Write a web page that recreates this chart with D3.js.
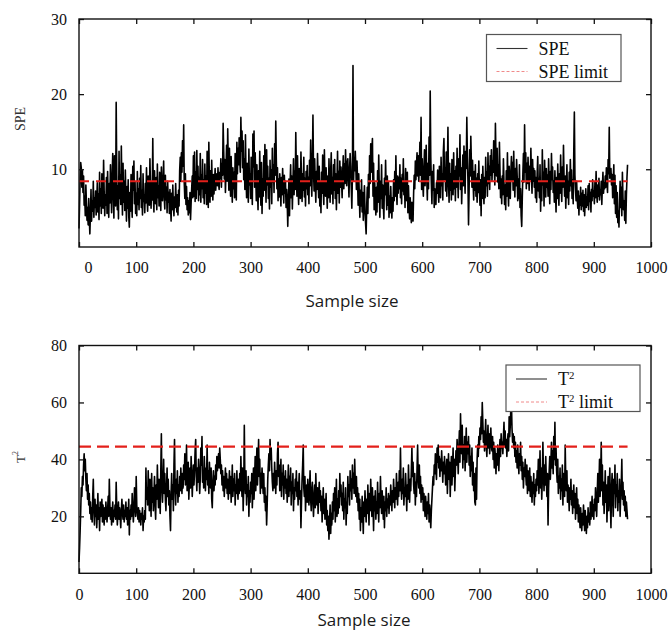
<!DOCTYPE html>
<html>
<head>
<meta charset="utf-8">
<script src="https://d3js.org/d3.v7.min.js"></script>
<style>
body { margin: 0; background: #fff; }
svg { display: block; }
.tick line { stroke: #111; stroke-width: 1.3; }
.legend text { font-family: "Liberation Serif", "Times New Roman", serif; font-size: 18px; fill: #111; }
</style>
</head>
<body>
<svg width="668" height="630"></svg>
<script>
var sampleTicks = [0, 100, 200, 300, 400, 500, 600, 700, 800, 900, 1000];
var speTicks = [10, 20, 30];
var t2Ticks = [20, 40, 60, 80];
var speLimit = 8.4;
var t2Limit = 44.5;

// SPE statistic, one value per sample
var speValues = [
  2.1, 5.3, 8.8, 10.9, 10.2, 7.6, 9.8, 6.9, 9.1, 5.2, 6.4, 3.8, 7.9, 5.5, 3.2, 4.9, 2.6, 6.1, 3.4, 1.4,
  4.2, 7.3, 3.1, 5.8, 4.4, 8.4, 3.6, 6.2, 4.9, 7.1, 3.9, 5.6, 8.2, 4.3, 6.7, 3.3, 9.6, 5.1, 7.4, 4.1,
  9.4, 6.3, 4.8, 11.2, 7.1, 3.8, 6.6, 5.2, 8.9, 4.1, 9.7, 6.2, 3.6, 8.1, 5.5, 10.6, 7.3, 4.2, 9.1, 12.1,
  6.4, 3.5, 11.8, 8.2, 5.1, 18.9, 9.3, 4.6, 7.8, 3.4, 12.4, 6.1, 9.2, 5.3, 13.1, 7.6, 3.9, 10.8, 5.6, 8.4,
  4.5, 9.9, 6.2, 3.1, 7.7, 4.8, 8.6, 3.7, 2.3, 6.9, 4.4, 9.3, 5.8, 3.6, 10.4, 7.2, 11.1, 5.4, 8.3, 4.1,
  6.8, 3.8, 9.7, 5.3, 7.4, 4.6, 8.8, 6.1, 10.5, 4.9, 7.2, 3.9, 9.4, 5.7, 6.6, 4.2, 8.1, 5.5, 10.2, 6.3,
  4.4, 9.1, 6.7, 5.2, 11.4, 7.6, 4.8, 8.3, 5.9, 14.1, 6.5, 4.3, 9.8, 7.1, 5.4, 8.9, 4.6, 10.7, 6.2, 7.8,
  5.1, 9.6, 6.8, 4.5, 10.3, 7.4, 5.8, 8.7, 11.1, 6.2, 4.7, 9.2, 5.9, 7.6, 4.2, 8.4, 5.6, 6.9, 4.1, 7.3,
  5.4, 3.1, 6.8, 4.6, 7.9, 5.2, 3.8, 6.3, 4.9, 8.1, 5.7, 4.3, 6.6, 3.9, 7.2, 5.1, 9.8, 11.6, 8.4, 12.2,
  9.6, 13.8, 10.4, 15.9, 8.2, 6.1, 9.4, 5.3, 7.7, 4.6, 6.2, 3.9, 5.8, 4.2, 6.9, 3.3, 5.5, 7.4, 9.1, 6.2,
  11.8, 6.4, 12.3, 5.7, 9.6, 6.1, 12.5, 7.3, 10.4, 5.8, 8.9, 6.6, 12.1, 5.6, 9.2, 7.4, 11.3, 6.2, 8.6, 5.4,
  10.7, 6.8, 9.1, 5.3, 12.4, 7.1, 4.9, 13.6, 8.2, 5.6, 9.8, 6.4, 11.2, 7.6, 5.9, 9.3, 6.7, 8.4, 10.1, 7.2,
  8.6, 9.4, 7.8, 10.2, 8.1, 7.3, 9.6, 8.8, 11.4, 7.6, 10.8, 9.2, 16.1, 12.4, 8.7, 11.3, 6.9, 9.8, 13.2, 8.4,
  15.4, 10.6, 7.2, 12.8, 9.1, 6.4, 11.7, 8.3, 5.6, 10.2, 7.4, 9.6, 6.2, 12.1, 8.8, 5.9, 13.6, 9.4, 12.8, 10.6,
  14.2, 11.3, 9.6, 16.9, 12.4, 15.1, 10.2, 13.8, 8.6, 11.4, 7.3, 14.6, 9.1, 6.2, 10.8, 8.4, 5.6, 12.7, 7.9, 9.4,
  6.1, 11.6, 8.2, 5.3, 14.7, 10.3, 15.1, 7.6, 12.2, 9.1, 5.8, 10.6, 7.4, 4.6, 9.8, 6.3, 12.4, 8.1, 5.2, 10.9,
  4.1, 8.7, 6.4, 11.8, 7.2, 13.3, 9.1, 5.6, 12.6, 7.9, 10.4, 6.1, 8.8, 4.7, 11.2, 7.6, 9.9, 5.4, 12.8, 8.3,
  10.6, 6.9, 13.4, 9.2, 16.4, 11.1, 7.4, 10.2, 5.8, 8.7, 6.3, 9.4, 7.6, 5.1, 8.9, 6.6, 10.1, 7.8, 5.5, 9.2,
  6.8, 8.4, 4.9, 7.3, 5.6, 2.4, 6.1, 8.7, 3.8, 7.9, 10.6, 6.2, 9.1, 4.7, 8.2, 11.4, 6.6, 9.8, 7.3, 14.9,
  9.6, 6.4, 11.8, 7.7, 5.3, 10.1, 8.4, 6.1, 12.3, 8.9, 5.7, 9.4, 7.2, 11.6, 6.3, 8.8, 5.1, 9.7, 7.4, 10.5,
  6.6, 8.9, 5.4, 11.2, 7.8, 13.9, 9.2, 6.4, 10.6, 17.2, 9.8, 7.1, 11.4, 8.2, 5.6, 9.7, 7.3, 12.1, 8.6, 6.2,
  10.4, 5.1, 8.3, 4.2, 9.6, 6.8, 11.9, 7.4, 5.3, 12.6, 8.1, 6.4, 10.2, 7.6, 4.8, 9.1, 6.2, 11.4, 7.9, 5.6,
  9.8, 12.2, 6.7, 8.9, 5.4, 10.6, 7.2, 11.3, 6.1, 9.4, 4.6, 8.2, 12.4, 6.8, 9.7, 5.5, 11.1, 7.6, 10.3, 8.4,
  6.2, 9.6, 11.8, 7.4, 10.7, 8.1, 12.6, 9.3, 7.8, 10.9, 11.4, 8.6, 6.3, 9.9, 12.1, 10.4, 7.6, 4.8, 9.2, 23.8,
  8.4, 11.6, 9.8, 12.4, 10.2, 7.3, 11.1, 8.6, 5.2, 9.4, 6.8, 3.6, 7.2, 5.1, 8.6, 4.3, 6.9, 3.2, 5.6, 7.8,
  4.4, 2.8, 1.4, 5.2, 7.6, 4.1, 9.3, 6.2, 11.8, 8.1, 13.4, 9.6, 12.7, 14.1, 6.4, 10.8, 4.6, 8.2, 5.7, 3.9,
  7.6, 4.3, 9.8, 5.6, 11.9, 7.2, 3.6, 8.4, 6.1, 10.6, 4.8, 7.9, 5.3, 3.4, 8.8, 6.6, 11.2, 7.4, 4.6, 9.1,
  5.2, 8.3, 3.6, 6.4, 4.2, 7.7, 5.1, 3.5, 6.2, 4.4, 8.6, 5.8, 9.7, 6.4, 11.8, 7.2, 5.3, 9.1, 6.8, 8.9,
  7.4, 10.6, 6.2, 8.8, 5.4, 9.3, 7.1, 11.4, 6.6, 8.2, 4.9, 10.1, 7.3, 5.8, 9.6, 4.2, 7.8, 5.1, 3.4, 6.2,
  4.1, 2.9, 5.6, 3.4, 3.1, 6.8, 9.2, 7.4, 11.1, 8.6, 10.6, 12.2, 9.1, 11.8, 8.4, 10.3, 13.6, 9.2, 16.9, 7.3,
  11.4, 8.2, 6.4, 10.1, 12.6, 7.8, 9.4, 13.2, 8.6, 5.9, 10.8, 7.4, 14.3, 9.2, 20.4, 11.6, 8.1, 5.4, 9.7, 7.2,
  10.6, 4.9, 7.4, 6.1, 5.3, 8.2, 6.8, 9.9, 7.1, 5.6, 10.4, 8.3, 6.2, 11.6, 7.8, 9.4, 5.9, 12.4, 14.1, 8.6,
  10.2, 7.1, 12.3, 6.4, 9.6, 15.6, 8.3, 5.6, 10.8, 7.2, 9.4, 5.9, 11.3, 8.1, 6.6, 12.2, 7.4, 9.8, 5.8, 10.4,
  7.6, 12.8, 8.9, 6.2, 11.4, 9.1, 14.6, 7.3, 10.2, 5.4, 8.6, 11.9, 7.8, 13.1, 9.4, 6.8, 12.4, 10.1, 16.9, 11.6,
  8.4, 2.6, 7.2, 12.6, 9.1, 14.4, 10.8, 7.6, 11.2, 8.3, 5.9, 9.7, 7.2, 10.6, 6.4, 8.8, 5.6, 9.4, 6.9, 11.1,
  7.4, 5.2, 8.6, 3.8, 9.3, 6.1, 10.4, 7.6, 5.4, 8.9, 6.2, 11.6, 7.8, 9.6, 6.4, 12.2, 8.1, 10.4, 7.3, 11.8,
  9.2, 12.6, 8.4, 11.1, 9.6, 13.8, 10.2, 7.9, 16.1, 11.4, 9.1, 12.8, 8.3, 10.6, 7.4, 13.6, 9.8, 6.2, 8.7, 5.4,
  9.1, 6.6, 11.4, 8.2, 5.3, 7.9, 4.6, 9.8, 6.4, 12.2, 7.6, 5.1, 10.4, 8.3, 6.1, 9.6, 11.7, 8.4, 10.9, 7.2,
  12.4, 8.6, 6.3, 10.1, 7.8, 11.3, 9.2, 5.8, 8.7, 6.1, 10.6, 4.9, 7.4, 3.8, 2.4, 6.2, 9.4, 12.1, 8.3, 15.9,
  9.6, 12.2, 7.4, 10.8, 8.1, 11.6, 9.3, 7.2, 10.4, 8.6, 12.8, 9.1, 6.8, 11.3, 8.4, 10.1, 7.6, 9.8, 6.2, 8.9,
  5.6, 9.4, 11.7, 7.1, 8.8, 6.2, 10.6, 4.4, 8.3, 5.8, 12.6, 7.9, 9.6, 5.1, 11.2, 8.4, 6.3, 10.1, 7.6, 9.2,
  6.4, 11.4, 8.1, 5.4, 9.7, 7.3, 12.1, 8.6, 10.3, 6.9, 8.4, 5.6, 9.8, 7.2, 4.3, 8.9, 6.1, 10.7, 7.4, 5.2,
  9.4, 6.8, 11.9, 8.2, 5.7, 10.3, 7.6, 13.2, 8.8, 6.4, 9.1, 4.8, 7.7, 10.6, 6.2, 8.4, 5.3, 9.6, 7.1, 11.3,
  7.8, 9.9, 6.1, 8.6, 5.4, 12.4, 17.6, 9.2, 7.3, 5.8, 8.4, 6.2, 4.8, 7.1, 3.9, 6.4, 5.2, 7.6, 4.6, 6.8,
  5.1, 7.2, 4.4, 6.6, 3.8, 5.9, 7.4, 4.9, 6.3, 5.2, 7.8, 4.6, 8.1, 5.7, 6.9, 4.3, 7.3, 5.8, 8.6, 6.4,
  7.1, 5.4, 8.3, 6.2, 9.7, 6.8, 5.6, 7.9, 6.4, 8.8, 5.9, 7.2, 6.6, 8.4, 5.3, 7.7, 9.6, 6.8, 8.2, 7.4,
  9.1, 7.6, 10.2, 8.4, 6.9, 11.3, 9.4, 15.6, 8.8, 9.6, 10.1, 7.9, 9.3, 6.2, 8.6, 10.6, 5.4, 9.2, 4.1, 7.8,
  3.6, 6.9, 2.9, 4.4, 2.3, 5.8, 8.4, 4.9, 7.6, 3.8, 9.6, 6.2, 4.6, 5.8, 3.2, 7.1, 2.8, 6.6, 8.9, 10.6
];

// T^2 statistic, one value per sample
var t2Values = [
  4, 9, 15, 22, 30, 27, 34, 31, 38, 42, 36, 40, 33, 29, 35, 26, 31, 24, 28, 21,
  25, 19, 23, 18, 27, 33, 22, 17, 26, 20, 24, 16, 21, 28, 19, 23, 15, 25, 20, 22,
  26, 18, 24, 20, 17, 23, 19, 25, 21, 18, 22, 27, 20, 33, 24, 19, 23, 17, 21, 25,
  18, 22, 20, 24, 19, 32, 23, 17, 21, 25, 19, 23, 20, 16, 22, 26, 21, 19, 24, 18,
  22, 20, 25, 19, 23, 17, 21, 26, 13.5, 22, 19, 24, 20, 28, 23, 18, 22, 30, 25, 20,
  34, 24, 21, 19, 23, 18, 22, 20, 17, 21, 19, 23, 15, 20, 18, 22, 19, 37, 26, 30,
  24, 36, 28, 22, 33, 27, 20, 35, 25, 30, 22, 28, 34, 24, 19, 31, 26, 38, 29, 23,
  33, 27, 21, 36, 49, 30, 25, 32, 40, 28, 35, 26, 22, 30, 37, 27, 33, 24, 29, 20,
  15, 28, 35, 26, 31, 22, 38, 47, 30, 24, 33, 28, 36, 25, 31, 27, 34, 29, 37, 32,
  28, 35, 30, 38, 33, 42, 31, 36, 45, 29, 34, 39, 26, 32, 37, 30, 41, 35, 27, 33,
  38, 31, 36, 43, 47, 34, 29, 37, 32, 40, 35, 28, 33, 44, 38, 48, 32, 36, 30, 41,
  35, 29, 37, 33, 45, 31, 36, 28, 39, 34, 30, 37, 26, 23, 32, 36, 29, 34, 31, 38,
  33, 41, 36, 39, 42, 37, 44, 40, 35, 38, 31, 36, 29, 34, 27, 32, 37, 30, 35, 28,
  33, 26, 31, 36, 28, 34, 25, 30, 38, 27, 33, 29, 35, 24, 31, 28, 36, 30, 26, 33,
  28, 35, 29, 41, 32, 27, 37, 22, 30, 52, 33, 28, 36, 24, 31, 27, 34, 20, 29, 25,
  32, 28, 35, 23, 30, 37, 26, 33, 41, 29, 36, 44, 31, 38, 47, 34, 40, 28, 35, 30,
  37, 32, 28, 35, 25, 30, 22, 27, 17, 24, 33, 38, 42, 36, 47, 40, 44, 37, 32, 29,
  35, 30, 39, 33, 28, 36, 31, 42, 46, 34, 38, 29, 33, 40, 27, 35, 31, 38, 26, 34,
  30, 36, 28, 33, 25, 31, 38, 27, 34, 29, 37, 24, 32, 28, 35, 22, 30, 26, 33, 29,
  36, 27, 32, 24, 30, 35, 26, 29, 16, 25, 33, 38, 45, 30, 27, 34, 22, 28, 31, 25,
  33, 28, 24, 30, 36, 26, 22, 29, 32, 25, 20, 27, 31, 23, 35, 28, 24, 30, 21, 26,
  32, 25, 29, 22, 27, 18, 24, 30, 21, 26, 19, 23, 28, 17, 22, 15, 20, 12, 18, 24,
  14, 21, 17, 25, 19, 28, 22, 30, 18, 24, 33, 20, 26, 21, 29, 23, 35, 27, 31, 24,
  28, 22, 32, 19, 26, 23, 30, 17, 25, 21, 34, 27, 31, 24, 36, 29, 33, 26, 38, 30,
  35, 28, 40, 32, 27, 34, 25, 30, 22, 28, 19, 26, 15, 23, 18, 27, 21, 14, 25, 20,
  29, 23, 18, 26, 21, 31, 24, 17, 28, 22, 33, 26, 20, 30, 24, 15, 27, 22, 29, 19,
  25, 21, 32, 24, 18, 28, 23, 34, 26, 21, 29, 24, 19, 27, 16, 25, 22, 30, 20, 26,
  23, 28, 21, 27, 24, 31, 26, 22, 29, 25, 33, 27, 23, 30, 26, 35, 28, 24, 32, 27,
  36, 29, 44, 31, 26, 33, 28, 37, 24, 30, 27, 35, 29, 22, 31, 26, 38, 30, 25, 33,
  29, 36, 44, 34, 39, 31, 28, 35, 24, 32, 27, 37, 45, 33, 30, 38, 28, 34, 25, 31,
  26, 30, 22, 28, 24, 20, 27, 23, 19, 25, 21, 28, 18, 24, 20, 16, 22, 26, 30, 34,
  31, 38, 35, 42, 36, 33, 44, 39, 45, 37, 41, 34, 40, 36, 43, 38, 32, 39, 35, 41,
  37, 31, 34, 40, 28, 36, 42, 33, 39, 27, 35, 41, 31, 37, 44, 34, 40, 29, 36, 43,
  38, 47, 41, 35, 44, 50, 39, 56, 46, 42, 52, 37, 45, 40, 48, 36, 43, 51, 39, 46,
  42, 48, 38, 45, 34, 41, 36, 44, 31, 39, 29, 35, 25, 24, 37, 26, 40, 45, 41, 48,
  44, 51, 47, 55, 49, 60, 53, 46, 50, 43, 48, 54, 45, 41, 47, 52, 44, 49, 42, 46,
  51, 45, 43, 48, 40, 46, 37, 44, 41, 35, 42, 38, 45, 40, 36, 43, 47, 41, 49, 44,
  46, 42, 48, 53, 45, 50, 44, 47, 41, 46, 49, 43, 55, 48, 52, 58, 60, 51, 46, 49,
  44, 48, 41, 46, 39, 43, 37, 45, 40, 35, 42, 38, 46, 36, 41, 33, 39, 30, 37, 34,
  40, 35, 31, 38, 28, 36, 33, 29, 37, 27, 34, 30, 25, 32, 28, 35, 24, 31, 27, 33,
  29, 36, 31, 40, 28, 34, 43, 30, 37, 26, 33, 46, 35, 29, 38, 31, 41, 33, 27, 35,
  17, 30, 36, 41, 33, 39, 46, 37, 43, 35, 48, 40, 53, 38, 44, 36, 32, 40, 28, 34,
  30, 37, 26, 33, 29, 38, 24, 35, 31, 27, 45, 33, 29, 36, 25, 31, 28, 22, 30, 26,
  33, 24, 29, 21, 27, 31, 23, 28, 19, 25, 30, 21, 26, 18, 24, 20, 16, 23, 19, 15,
  21, 17, 24, 19, 15, 22, 18, 14, 20, 16, 23, 18, 21, 17, 25, 19, 22, 27, 20, 24,
  19, 26, 22, 30, 24, 20, 28, 35, 25, 31, 40, 27, 33, 46, 29, 38, 24, 32, 21, 28,
  36, 25, 31, 18, 27, 34, 22, 29, 37, 24, 16, 30, 35, 26, 20, 33, 28, 38, 23, 31,
  27, 35, 22, 29, 25, 33, 20, 27, 31, 40, 26, 32, 24, 29, 22, 27, 20, 25, 22, 19
];

var svg = d3.select("svg");

var x = d3.scaleLinear().domain([0, 1000]).range([79, 651]);

var ySpe = d3.scaleLinear().domain([-0.35, 30]).range([247, 19]);
var yT2 = d3.scaleLinear().domain([0, 80]).range([573.3, 345.5]);

function noDomain(g) { g.select(".domain").remove(); }

function serifLabels(g) {
  g.attr("font-family", null).attr("font-size", null);
  g.selectAll(".tick text")
    .style("font-family", "'Liberation Serif', 'Times New Roman', serif")
    .style("font-size", "16px")
    .style("fill", "#111");
}

function drawPanel(values, limit, y, yTicks, opts) {
  var top = y.range()[1], bottom = y.range()[0];
  var g = svg.append("g");

  // data line
  var line = d3.line()
    .x(function(d, i) { return x(i); })
    .y(function(d) { return y(d); });

  g.append("path")
    .datum(values)
    .attr("fill", "none")
    .attr("stroke", "#000")
    .attr("stroke-width", 1.6)
    .attr("stroke-linejoin", "round")
    .attr("d", line);

  // control limit
  g.append("line")
    .attr("x1", x(0)).attr("x2", x(values.length - 1))
    .attr("y1", y(limit)).attr("y2", y(limit))
    .attr("stroke", "#e3201b")
    .attr("stroke-width", opts.limitWidth)
    .attr("stroke-dasharray", opts.dash);

  // axes, ticks point inward
  var xb = g.append("g")
    .attr("transform", "translate(0," + bottom + ")")
    .call(d3.axisBottom(x).tickValues(sampleTicks).tickSize(-5).tickPadding(15).tickFormat(d3.format("d")))
    .call(noDomain)
    .call(serifLabels);
  if (opts.zeroShift) {
    xb.selectAll(".tick text").filter(function(d) { return d === 0; }).attr("dx", opts.zeroShift);
  }

  g.append("g")
    .attr("transform", "translate(0," + top + ")")
    .call(d3.axisTop(x).tickValues(sampleTicks).tickSize(-5).tickFormat(""))
    .call(noDomain);

  g.append("g")
    .attr("transform", "translate(" + x.range()[0] + ",0)")
    .call(d3.axisLeft(y).tickValues(yTicks).tickSize(-5).tickPadding(12))
    .call(noDomain)
    .call(serifLabels);

  g.append("g")
    .attr("transform", "translate(" + x.range()[1] + ",0)")
    .call(d3.axisRight(y).tickValues(yTicks).tickSize(-5).tickFormat(""))
    .call(noDomain);

  // frame
  g.append("rect")
    .attr("x", x.range()[0]).attr("y", top)
    .attr("width", x.range()[1] - x.range()[0])
    .attr("height", bottom - top)
    .attr("fill", "none")
    .attr("stroke", "#111")
    .attr("stroke-width", 1.4);

  // axis titles
  g.append("text")
    .attr("x", opts.titleX).attr("y", opts.titleY)
    .attr("text-anchor", "middle")
    .style("font-family", "'Open Sans', sans-serif")
    .style("font-size", "17px")
    .style("fill", "#1a1a1a")
    .text("Sample size");

  var yl = g.append("text")
    .attr("transform", "translate(20," + opts.yLabelY + ") rotate(-90)")
    .attr("text-anchor", "middle")
    .attr("dominant-baseline", "central")
    .style("font-family", "'Liberation Serif', serif")
    .style("font-size", opts.yLabelSize)
    .style("fill", "#333");
  opts.label(yl);

  // legend
  var lg = g.append("g").attr("class", "legend");
  lg.append("rect")
    .attr("x", opts.legend[0]).attr("y", opts.legend[1])
    .attr("width", opts.legend[2]).attr("height", opts.legend[3])
    .attr("fill", "#fff")
    .attr("stroke", "#555")
    .attr("stroke-width", 1.2);

  var lx = opts.legend[0] + 10, ly = opts.legend[1];
  lg.append("line")
    .attr("x1", lx).attr("x2", lx + 31)
    .attr("y1", ly + 14).attr("y2", ly + 14)
    .attr("stroke", "#333").attr("stroke-width", 1.1);
  lg.append("line")
    .attr("x1", lx).attr("x2", lx + 31)
    .attr("y1", ly + 37).attr("y2", ly + 37)
    .attr("stroke", "#f08a8a").attr("stroke-width", 1)
    .attr("stroke-dasharray", "3,2");

  var t1 = lg.append("text").attr("x", lx + 42).attr("y", ly + 20);
  opts.label(t1);
  var t2 = lg.append("text").attr("x", lx + 42).attr("y", ly + 43);
  opts.label(t2);
  t2.append("tspan").text(" limit");
}

drawPanel(speValues, speLimit, ySpe, speTicks, {
  limitWidth: 1.8,
  dash: "10,7",
  zeroShift: 9,
  titleX: 352, titleY: 307,
  yLabelY: 119, yLabelSize: "14px",
  legend: [486.5, 34.5, 134.5, 47],
  label: function(t) { t.append("tspan").text("SPE"); }
});

drawPanel(t2Values, t2Limit, yT2, t2Ticks, {
  limitWidth: 2.4,
  dash: "12,6",
  zeroShift: 0,
  titleX: 364, titleY: 626,
  yLabelY: 457, yLabelSize: "13px",
  legend: [506, 365, 134, 46.5],
  label: function(t) {
    t.append("tspan").text("T");
    t.append("tspan").attr("baseline-shift", "super").style("font-size", "0.6em").text("2");
  }
});
</script>
</body>
</html>
